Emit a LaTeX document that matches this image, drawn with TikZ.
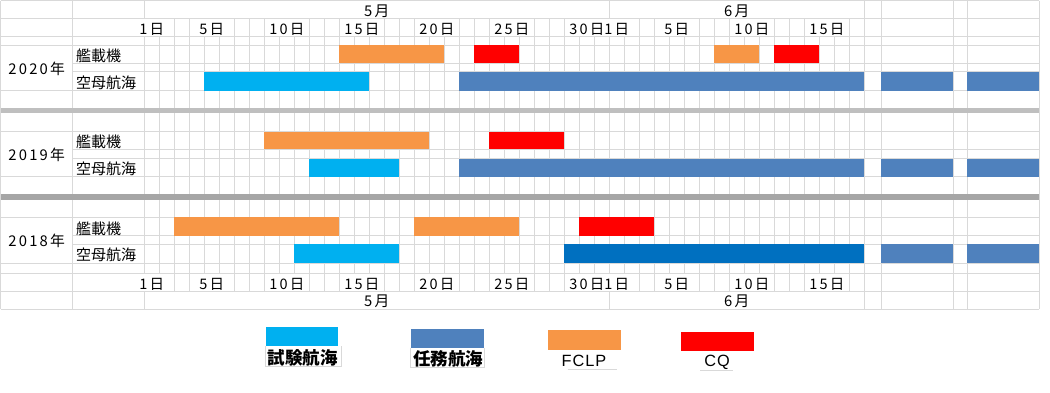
\documentclass[tikz,border=0pt]{standalone}
\usepackage{fontspec}
\setmainfont{Noto Sans CJK JP}
\newfontfamily\numf[LetterSpace=15]{Noto Sans CJK JP}
\newfontfamily\latf[LetterSpace=6]{Liberation Sans}
\definecolor{lblue}{HTML}{00B0F0}
\definecolor{mblue}{HTML}{4F81BD}
\definecolor{dblue}{HTML}{0070C0}
\definecolor{orng}{HTML}{F79646}
\definecolor{gridc}{HTML}{D9D9D9}
\definecolor{sepa}{HTML}{BFBFBF}
\definecolor{sepb}{HTML}{A6A6A6}
\newcommand\gb[5]{\fill[#5] ({144.3+15*#1},#3) rectangle ({144.3+15*(#2+1)},#4);}
\newcommand\ext[3]{\fill[#3] (881,#1) rectangle (953.3,#2); \fill[#3] (967.3,#1) rectangle (1039.3,#2);}
\begin{document}
\begin{tikzpicture}[x=1pt,y=-1pt,
  grid/.style={draw=gridc,line width=0.8pt},
  lab/.style={anchor=base west,inner sep=0pt,font=\fontsize{15}{16}\selectfont},
  yr/.style={anchor=base,inner sep=0pt,font=\fontsize{14.8}{16}\selectfont\numf},
  dayt/.style={anchor=base,inner ysep=0pt,inner xsep=0.5pt,fill=white,text height=15.5pt,text depth=1.2pt,font=\fontsize{14.5}{16}\selectfont\numf},
  dayb/.style={anchor=base,inner ysep=0pt,inner xsep=0.5pt,fill=white,text height=15.7pt,text depth=1pt,font=\fontsize{14.5}{16}\selectfont\numf},
  mon/.style={anchor=base,inner sep=0pt,font=\fontsize{14.8}{16}\selectfont\numf},
  leg/.style={anchor=base,inner sep=0pt,font=\fontsize{17.5}{19}\selectfont\bfseries},
  legl/.style={anchor=base,inner sep=0pt,font=\fontsize{16.3}{18}\selectfont\latf},
  cellb/.style={draw=gridc,line width=0.8pt}]
\useasboundingbox (0,0) rectangle (1050,392);
\fill[white] (0,0) rectangle (1050,392);
% horizontal grid lines
\foreach \y in {0.7,18.3,36,45,90.7,131.7,176.7,217.3,263,273.3,291,309.3}
  \draw[grid] (0.7,\y) -- (1039.3,\y);
\foreach \y in {63.3,71.7,149.3,158.7,235.7,244}
  \draw[grid] (72.7,\y) -- (1039.3,\y);
% vertical grid lines
\foreach \x in {0.7,72.7,144.3,609.3,864.3,881,953.3,967.3,1039.3}
  \draw[grid] (\x,0.7) -- (\x,309.3);
\foreach \k in {1,...,47}{
  \ifnum\k=31\relax\else
  \draw[grid] ({144.3+15*\k},18.3) -- ({144.3+15*\k},291);
  \fi}
% day labels top and bottom
\foreach \c/\t [count=\i] in {0/1日,4/5日,9/10日,14/15日,19/20日,24/25日,29/30日,31/1日,35/5日,40/10日,45/15日}{
  \node[dayt] (dt\i) at ({151.8+15*\c},34.3) {\t};
  \node[dayb] (db\i) at ({151.8+15*\c},289.5) {\t};
}
% month labels
\node[mon] (m5t) at (376.8,16) {5月};
\node[mon] (m6t) at (736.8,16) {6月};
\node[mon] (m5b) at (376.8,306.5) {5月};
\node[mon] (m6b) at (736.8,306.5) {6月};
% year labels
\node[yr] (y2020) at (36.7,74.5) {2020年};
\node[yr] (y2019) at (36.7,160.8) {2019年};
\node[yr] (y2018) at (36.7,246.3) {2018年};
% row labels
\node[lab] (k20) at (76,61.9) {艦載機};
\node[lab] (s20) at (76,88.5) {空母航海};
\node[lab] (k19) at (76,147.5) {艦載機};
\node[lab] (s19) at (76,174.2) {空母航海};
\node[lab] (k18) at (76,234.2) {艦載機};
\node[lab] (s18) at (76,260.9) {空母航海};
% 2020 bars
\gb{13}{19}{45}{63.3}{orng}
\gb{22}{24}{45}{63.3}{red}
\gb{38}{40}{45}{63.3}{orng}
\gb{42}{44}{45}{63.3}{red}
\gb{4}{14}{71.7}{90.7}{lblue}
\gb{21}{47}{71.7}{90.7}{mblue}
\ext{71.7}{90.7}{mblue}
% 2019 bars
\gb{8}{18}{131.7}{149.3}{orng}
\gb{23}{27}{131.7}{149.3}{red}
\gb{11}{16}{158.7}{176.7}{lblue}
\gb{21}{47}{158.7}{176.7}{mblue}
\ext{158.7}{176.7}{mblue}
% 2018 bars
\gb{2}{12}{217.3}{235.7}{orng}
\gb{18}{24}{217.3}{235.7}{orng}
\gb{29}{33}{217.3}{235.7}{red}
\gb{10}{16}{244}{263}{lblue}
\gb{28}{47}{244}{263}{dblue}
\ext{244}{263}{mblue}
% separators
\fill[sepa] (0.7,108.3) rectangle (1039.3,113.3);
\fill[sepb] (0.7,194.3) rectangle (1039.3,199.7);
% legend
\fill[lblue] (265.8,326.8) rectangle (337.7,346.1);
\draw[cellb] (265.8,346.1) -- (265.8,366.1) -- (341.2,366.1) -- (341.2,346.1);
\node[leg] (l1) at (302.7,364.3) {試験航海};
\fill[mblue] (410.7,328.6) rectangle (484.4,347.5);
\draw[cellb] (410.7,347.5) -- (410.7,367.2) -- (484.4,367.2) -- (484.4,347.5);
\node[leg] (l2) at (448.2,365.3) {任務航海};
\fill[orng] (548.2,330.4) rectangle (621.2,349.6);
\draw[cellb] (567.5,369) -- (616.7,369);
\node[legl] (l3) at (584,366.1) {FCLP};
\fill[red] (680.9,331.8) rectangle (754.2,351);
\draw[cellb] (700.2,370.4) -- (733.2,370.4);
\node[legl] (l4) at (717,366.8) {CQ};
\end{tikzpicture}
\end{document}
